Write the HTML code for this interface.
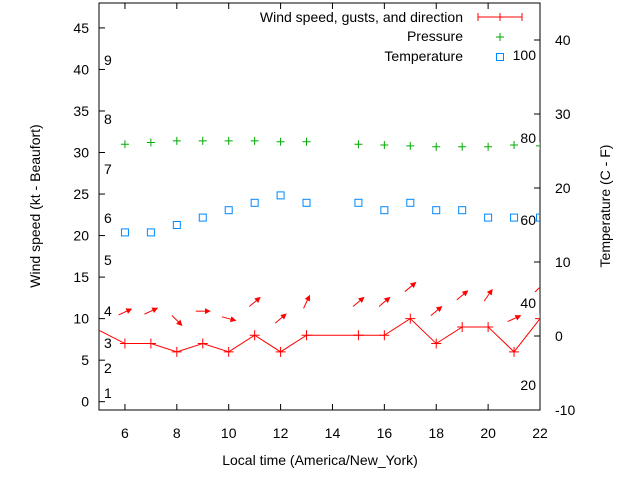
<!DOCTYPE html>
<html><head><meta charset="utf-8"><style>
body{margin:0;background:#fff}
svg text{font-family:"Liberation Sans",sans-serif;font-size:14px;fill:#000}
</style></head><body>
<svg id="c" width="640" height="480">
<defs><marker id="ah" markerWidth="6" markerHeight="6" refX="5" refY="3" orient="auto"><path d="M0,0 L6,3 L0,6 z" fill="#f00"/></marker></defs>
</svg>
<script>
const hours=[6,7,8,9,10,11,12,13,15,16,17,18,19,20,21,22];
const windLineHours=[4,6,7,8,9,10,11,12,13,15,16,17,18,19,20,21,22];
const windSpeed=[10.2,7,7,6,7,6,8,6,8,8,8,10,7,9,9,6,10];
const arrowLevel=[10.8,10.9,9.8,10.9,10,12,10,12,12,12,13.8,10.9,12.8,12.8,10,13.8];
const arrowAngle=[-25,-25,45,0,15,-40,-40,-65,-40,-40,-40,-40,-40,-55,-25,-45];
const pressure=[31.0,31.2,31.4,31.4,31.4,31.4,31.3,31.3,31.0,30.9,30.8,30.7,30.7,30.7,30.9,30.8];
const temperature=[14,14,15,16,17,18,19,18,18,17,18,17,17,16,16,16];
const xTicks=[6,8,10,12,14,16,18,20,22];
const yTicks=[0,5,10,15,20,25,30,35,40,45];
const y2Ticks=[-10,0,10,20,30,40];
const beaufort=[[1,393],[2,368],[3,343],[4,311],[5,260],[6,218],[7,169],[8,119],[9,60]];
const fahr=[[20,385],[40,303],[60,220],[80,138],[100,55]];
const L=99,R=540,T=3,B=410;
const X=h=>L+(h-5)*(R-L)/17;
const Y=v=>B-(v+1)*(B-T)/49;
const Y2=v=>B-(v+10)*(B-T)/55;
const s=document.getElementById('c');const NS='http://www.w3.org/2000/svg';
function el(t,a,p){const e=document.createElementNS(NS,t);for(const k in a)e.setAttribute(k,a[k]);(p||s).appendChild(e);return e;}
function tx(x,y,str,anchor,name,rot){const e=el('text',{x:x,y:y,'text-anchor':anchor||'start'});if(rot)e.setAttribute('transform',rot);e.textContent=str;

return e;}
const clip=el('clipPath',{id:'cp'});el('rect',{x:L,y:T,width:R-L,height:B-T},clip);
el('rect',{x:L,y:T,width:R-L,height:B-T,fill:'none',stroke:'#000'});
xTicks.forEach(h=>{el('line',{x1:X(h),x2:X(h),y1:B,y2:B-6,stroke:'#000'});el('line',{x1:X(h),x2:X(h),y1:T,y2:T+6,stroke:'#000'});tx(X(h),438,String(h),'middle','x-tick-label');});
yTicks.forEach(v=>{el('line',{x1:L,x2:L+6,y1:Y(v),y2:Y(v),stroke:'#000'});tx(L-10,Y(v)+5,String(v),'end','y-tick-label');});
y2Ticks.forEach(v=>{el('line',{x1:R,x2:R-6,y1:Y2(v),y2:Y2(v),stroke:'#000'});tx(R+15,Y2(v)+5,String(v),'start','y2-tick-label');});
beaufort.forEach(b=>tx(104,b[1]+5,String(b[0]),'start','beaufort-label'));
fahr.forEach(f=>tx(536,f[1]+5,String(f[0]),'end','fahrenheit-label'));
tx(320,465,'Local time (America/New_York)','middle','x-axis-title');
tx(40,206,'Wind speed (kt - Beaufort)','middle','y-axis-title','rotate(-90 40 206)');
tx(610,206,'Temperature (C - F)','middle','y2-axis-title','rotate(-90 610 206)');
const g=el('g',{'clip-path':'url(#cp)'});
const pts=windLineHours.map((h,i)=>X(h)+','+Y(windSpeed[i])).join(' ');
const wl=el('polyline',{points:pts,fill:'none',stroke:'#f00','stroke-width':1},g);


windLineHours.forEach((h,i)=>{const x=X(h),y=Y(windSpeed[i]);const p=el('path',{d:`M${x-5},${y}h10M${x},${y-5}v10`,stroke:'#f00'},g);

});
hours.forEach((h,i)=>{const cx=X(h),cy=Y(arrowLevel[i]),a=arrowAngle[i]*Math.PI/180,l=7;
const ar=el('line',{x1:cx-l*Math.cos(a),y1:cy-l*Math.sin(a),x2:cx+l*Math.cos(a),y2:cy+l*Math.sin(a),stroke:'#f00','marker-end':'url(#ah)'},g);

});
hours.forEach((h,i)=>{const x=X(h),y=Y(pressure[i]);const p=el('path',{d:`M${x-4},${y}h8M${x},${y-4}v8`,stroke:'#0a0'},g);

});
hours.forEach((h,i)=>{const x=X(h),y=Y2(temperature[i]);const r=el('rect',{x:x-3.5,y:y-3.5,width:7,height:7,fill:'none',stroke:'#08f'},g);

});
tx(463,22,'Wind speed, gusts, and direction','end','legend-wind');
el('path',{d:'M478,17h44M478,13v8M500,13v8M522,13v8',stroke:'#f00'});
tx(463,41,'Pressure','end','legend-pressure');
el('path',{d:'M496,37h8M500,33v8',stroke:'#0a0'});
tx(463,61,'Temperature','end','legend-temperature');
el('rect',{x:496.5,y:53.5,width:7,height:7,fill:'none',stroke:'#08f'});
</script>
</body></html>
